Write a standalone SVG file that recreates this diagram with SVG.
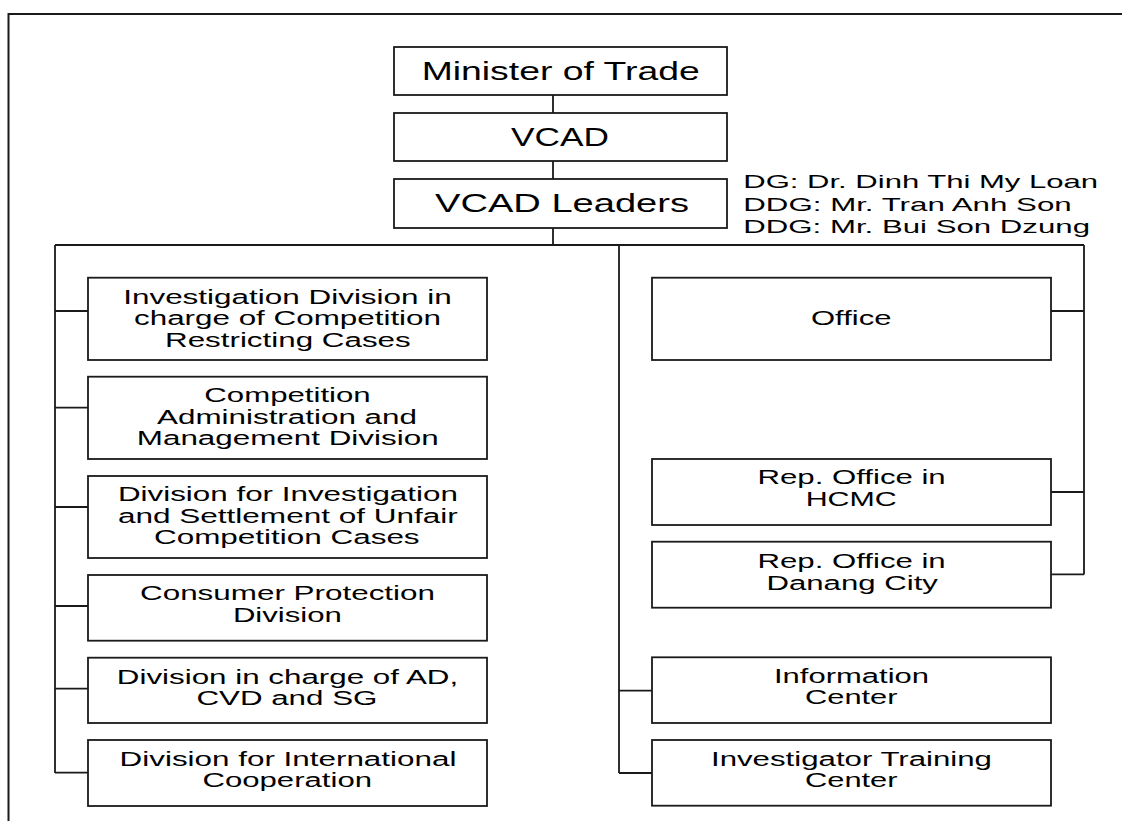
<svg xmlns="http://www.w3.org/2000/svg" width="1122" height="821" viewBox="0 0 1122 821">
<style>
.bg{fill:#ffffff}
.frame{fill:none;stroke:#1a1a1a;stroke-width:2}
.box{fill:#ffffff;stroke:#1a1a1a;stroke-width:1.8}
.ln{fill:none;stroke:#1a1a1a;stroke-width:1.8}
.t{font-family:"Liberation Sans",Arial,sans-serif;fill:#000000}
.top{font-size:26px}
.div{font-size:19.5px}
.note{font-size:18.5px}
</style>
<rect class="bg" x="0" y="0" width="1122" height="821"/>
<path class="frame" d="M8.5,821 V14 H1122"/>
<g id="connectors">
<path class="ln" d="M553,95 V113 M553,161 V179 M553,228 V245"/>
<path class="ln" d="M55,245 H1084 M55,245 V773 M619,245 V773 M1084,245 V574.5"/>
<path class="ln" d="M55,311 H88 M55,407.7 H88 M55,507 H88 M55,606 H88 M55,688.7 H88 M55,772.7 H88"/>
<path class="ln" d="M619,690.7 H652 M619,773 H652"/>
<path class="ln" d="M1051,311 H1084 M1051,492 H1084 M1051,574.3 H1084"/>
</g>
<g id="minister">
<rect class="box" x="394" y="47" width="333" height="48"/>
<text class="t top" x="421.7" y="79.6" textLength="278" lengthAdjust="spacingAndGlyphs">Minister of Trade</text>
</g>
<g id="vcad">
<rect class="box" x="394" y="113" width="333" height="48"/>
<text class="t top" x="511" y="146.3" textLength="98" lengthAdjust="spacingAndGlyphs">VCAD</text>
</g>
<g id="leaders">
<rect class="box" x="394" y="179" width="333" height="49"/>
<text class="t top" x="435" y="212.3" textLength="254" lengthAdjust="spacingAndGlyphs">VCAD Leaders</text>
</g>
<g id="leaders-names">
<text class="t note" x="743.3" y="188" textLength="354.7" lengthAdjust="spacingAndGlyphs">DG: Dr. Dinh Thi My Loan</text>
<text class="t note" x="743.3" y="210.8" textLength="328.4" lengthAdjust="spacingAndGlyphs">DDG: Mr. Tran Anh Son</text>
<text class="t note" x="743.3" y="233" textLength="346.7" lengthAdjust="spacingAndGlyphs">DDG: Mr. Bui Son Dzung</text>
</g>
<g id="inv-restricting">
<rect class="box" x="88" y="277.7" width="399" height="82.3"/>
<text class="t div" x="123.2" y="303.6" textLength="328.6" lengthAdjust="spacingAndGlyphs">Investigation Division in</text>
<text class="t div" x="134" y="325.3" textLength="307" lengthAdjust="spacingAndGlyphs">charge of Competition</text>
<text class="t div" x="165" y="347" textLength="245.7" lengthAdjust="spacingAndGlyphs">Restricting Cases</text>
</g>
<g id="comp-admin">
<rect class="box" x="88" y="376.7" width="399" height="82.3"/>
<text class="t div" x="204.3" y="402" textLength="166.4" lengthAdjust="spacingAndGlyphs">Competition</text>
<text class="t div" x="157" y="423.6" textLength="260" lengthAdjust="spacingAndGlyphs">Administration and</text>
<text class="t div" x="136.8" y="445.3" textLength="301.8" lengthAdjust="spacingAndGlyphs">Management Division</text>
</g>
<g id="unfair">
<rect class="box" x="88" y="476" width="399" height="82"/>
<text class="t div" x="117.9" y="501" textLength="340" lengthAdjust="spacingAndGlyphs">Division for Investigation</text>
<text class="t div" x="117.9" y="522.6" textLength="340" lengthAdjust="spacingAndGlyphs">and Settlement of Unfair</text>
<text class="t div" x="154" y="544.3" textLength="265.6" lengthAdjust="spacingAndGlyphs">Competition Cases</text>
</g>
<g id="consumer">
<rect class="box" x="88" y="575" width="399" height="65.7"/>
<text class="t div" x="140" y="600.3" textLength="295" lengthAdjust="spacingAndGlyphs">Consumer Protection</text>
<text class="t div" x="232.9" y="622" textLength="109" lengthAdjust="spacingAndGlyphs">Division</text>
</g>
<g id="ad-cvd-sg">
<rect class="box" x="88" y="657.7" width="399" height="65.3"/>
<text class="t div" x="116.8" y="683.6" textLength="341.4" lengthAdjust="spacingAndGlyphs">Division in charge of AD,</text>
<text class="t div" x="196.4" y="705.3" textLength="181" lengthAdjust="spacingAndGlyphs">CVD and SG</text>
</g>
<g id="intl">
<rect class="box" x="88" y="740" width="399" height="66"/>
<text class="t div" x="119.6" y="766" textLength="336.8" lengthAdjust="spacingAndGlyphs">Division for International</text>
<text class="t div" x="202.5" y="787" textLength="169.5" lengthAdjust="spacingAndGlyphs">Cooperation</text>
</g>
<g id="office">
<rect class="box" x="652" y="277.7" width="399" height="82.3"/>
<text class="t div" x="811" y="325.3" textLength="80.4" lengthAdjust="spacingAndGlyphs">Office</text>
</g>
<g id="hcmc">
<rect class="box" x="652" y="459" width="399" height="66"/>
<text class="t div" x="757.5" y="484.3" textLength="188.2" lengthAdjust="spacingAndGlyphs">Rep. Office in</text>
<text class="t div" x="805.7" y="506" textLength="91.1" lengthAdjust="spacingAndGlyphs">HCMC</text>
</g>
<g id="danang">
<rect class="box" x="652" y="541.7" width="399" height="66"/>
<text class="t div" x="757.5" y="568" textLength="188.2" lengthAdjust="spacingAndGlyphs">Rep. Office in</text>
<text class="t div" x="766.4" y="589.6" textLength="171.5" lengthAdjust="spacingAndGlyphs">Danang City</text>
</g>
<g id="info">
<rect class="box" x="652" y="657.3" width="399" height="65.7"/>
<text class="t div" x="774" y="683" textLength="155" lengthAdjust="spacingAndGlyphs">Information</text>
<text class="t div" x="805" y="704.3" textLength="92.5" lengthAdjust="spacingAndGlyphs">Center</text>
</g>
<g id="training">
<rect class="box" x="652" y="740" width="399" height="65.7"/>
<text class="t div" x="711" y="766" textLength="281" lengthAdjust="spacingAndGlyphs">Investigator Training</text>
<text class="t div" x="805" y="787" textLength="92.5" lengthAdjust="spacingAndGlyphs">Center</text>
</g>
</svg>
